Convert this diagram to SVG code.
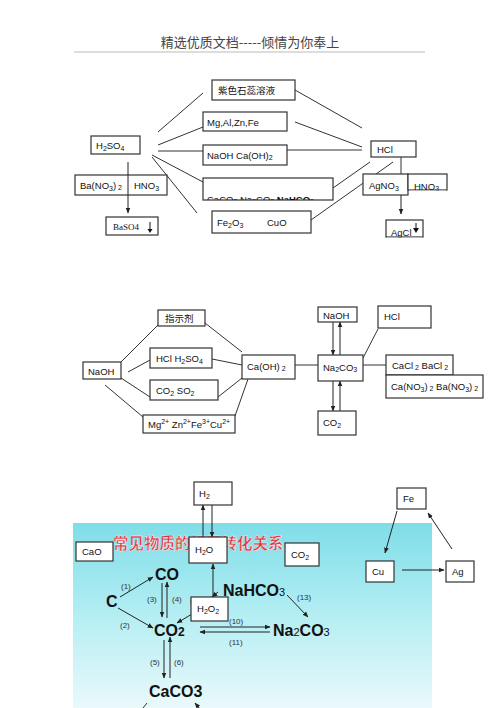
<svg xmlns="http://www.w3.org/2000/svg" width="500" height="708" viewBox="0 0 500 708">
<style>
.b{fill:#fff;stroke:#333;stroke-width:1.2}
.t{font-family:"Liberation Sans","Noto Sans CJK JP",sans-serif;font-size:9.5px;fill:#111}
.s{font-size:7px}
.l{stroke:#333;stroke-width:1;fill:none}
.a{stroke:#222;stroke-width:1;fill:none;marker-end:url(#ah)}
.big{font-family:"Liberation Sans",sans-serif;font-size:16px;font-weight:bold;fill:#111}
.n{font-family:"Liberation Sans",sans-serif;font-size:8px;fill:#333}
</style>
<defs>
<marker id="ah" viewBox="0 0 10 10" refX="9" refY="5" markerWidth="6" markerHeight="6" orient="auto" markerUnits="userSpaceOnUse"><path d="M0,1 L10,5 L0,9 z" fill="#222"/></marker>
<linearGradient id="sky" x1="0" y1="0" x2="0" y2="1"><stop offset="0" stop-color="#7fdde8"/><stop offset="0.5" stop-color="#b4eef3"/><stop offset="1" stop-color="#eaf9fb"/></linearGradient>
<clipPath id="cc"><rect x="203" y="178" width="130" height="22"/></clipPath>
<clipPath id="tc"><rect x="73" y="520" width="116" height="40"/><rect x="227" y="520" width="100" height="40"/><rect x="189" y="520" width="38" height="17"/></clipPath>
</defs>
<rect width="500" height="708" fill="#fff"/>
<text x="250" y="47" text-anchor="middle" font-family="Noto Sans CJK SC,sans-serif" font-size="13" fill="#444">精选优质文档-----倾情为你奉上</text>
<line x1="74" y1="52" x2="425" y2="52" stroke="#bbb" stroke-width="1.2"/>

<g id="connectors1">
<line class="l" x1="158" y1="132" x2="203" y2="93"/>
<line class="l" x1="158" y1="145" x2="203" y2="127"/>
<line class="l" x1="158" y1="151" x2="203" y2="151"/>
<line class="l" x1="152" y1="155" x2="203" y2="182"/>
<line class="l" x1="152" y1="157" x2="197" y2="213"/>
<line class="l" x1="295" y1="90" x2="362" y2="128"/>
<line class="l" x1="295" y1="122" x2="362" y2="147"/>
<line class="l" x1="287" y1="150" x2="362" y2="150"/>
<line class="l" x1="333" y1="188" x2="370" y2="162"/>
<line class="l" x1="311" y1="220" x2="393" y2="162"/>
<line class="l" x1="401" y1="157" x2="401" y2="174"/>
</g>

<g id="zise"><rect class="b" x="212" y="80" width="83" height="20"/><text class="t" x="218" y="94" font-size="10.5">紫色石蕊溶液</text></g>
<g id="mg"><rect class="b" x="203" y="112" width="84" height="19"/><text class="t" x="207" y="126">Mg,Al,Zn,Fe</text></g>
<g id="naoh1"><rect class="b" x="203" y="145" width="84" height="20"/><text class="t" x="207" y="159">NaOH   Ca(OH)<tspan class="s" dy="1">2</tspan></text></g>
<g id="caco3box"><rect class="b" x="203" y="178" width="130" height="22"/><text class="t" x="207" y="203" clip-path="url(#cc)" font-size="11" font-family="Liberation Serif,serif">CaCO<tspan class="s" dy="1">3</tspan><tspan dy="-1"> Na</tspan><tspan class="s" dy="1">2</tspan><tspan dy="-1">CO</tspan><tspan class="s" dy="1">3</tspan><tspan dy="-1" font-weight="bold"> NaHCO</tspan><tspan class="s" dy="1">3</tspan></text></g>
<g id="fe2o3"><rect class="b" x="212" y="211" width="99" height="22"/><text class="t" x="217" y="226">Fe<tspan class="s" dy="2">2</tspan><tspan dy="-2">O</tspan><tspan class="s" dy="2">3</tspan></text><text class="t" x="267" y="226">CuO</text></g>
<g id="h2so4"><rect class="b" x="91" y="136" width="49" height="18"/><text class="t" x="96" y="149">H<tspan class="s" dy="2">2</tspan><tspan dy="-2">SO</tspan><tspan class="s" dy="2">4</tspan></text></g>
<g id="bano3"><rect class="b" x="75" y="175" width="92" height="20"/><text class="t" x="80" y="189">Ba(NO<tspan class="s" dy="2">3</tspan><tspan dy="-2">)</tspan><tspan class="s" dy="1"> 2</tspan></text><text class="t" x="134" y="189">HNO<tspan class="s" dy="2">3</tspan></text></g>
<g id="baso4"><rect class="b" x="106" y="217" width="52" height="18"/><text x="113" y="230" font-family="Liberation Serif,serif" font-size="9" fill="#111">BaSO4</text><line x1="150" y1="222" x2="150" y2="231" stroke="#111" stroke-width="1"/><path d="M147.5,229 L150,233 L152.5,229z" fill="#111"/></g>
<g id="hcl1"><rect class="b" x="371" y="141" width="45" height="16"/><text class="t" x="377" y="153">HCl</text></g>
<g id="agno3"><rect class="b" x="363" y="174" width="45" height="21"/><text class="t" x="369" y="189">AgNO<tspan class="s" dy="2">3</tspan></text></g>
<g id="hno3"><rect class="b" x="408" y="174" width="39" height="16"/><text class="t" x="414" y="190">HNO<tspan class="s" dy="1">3</tspan></text><rect x="409" y="190.6" width="37" height="4" fill="#fff"/></g>
<g id="agcl"><rect class="b" x="386" y="220" width="37" height="17"/><text class="t" x="391" y="236">AgCl</text><rect x="387" y="237.6" width="35" height="4" fill="#fff"/><path d="M413,228 L419,228 L416,233z" fill="#111"/><line x1="416" y1="223" x2="416" y2="229" stroke="#111"/></g>

<g id="arrows1">
<line class="a" x1="128" y1="162" x2="128" y2="213"/>
<line class="a" x1="401" y1="195" x2="401" y2="214"/>
</g>

<g id="connectors2">
<line class="l" x1="120" y1="363" x2="158" y2="325"/>
<line class="l" x1="128" y1="372" x2="150" y2="360"/>
<line class="l" x1="121" y1="378" x2="150" y2="397"/>
<line class="l" x1="105" y1="385" x2="143" y2="417"/>
<line class="l" x1="205" y1="323" x2="242" y2="352"/>
<line class="l" x1="212" y1="359" x2="242" y2="365"/>
<line class="l" x1="218" y1="397" x2="242" y2="378"/>
<line class="l" x1="235" y1="416" x2="248" y2="379"/>
<line class="l" x1="295" y1="365" x2="318" y2="365"/>
<line class="l" x1="378" y1="329" x2="363" y2="358"/>
<line class="l" x1="363" y1="365" x2="386" y2="365"/>
<line class="a" x1="333" y1="322" x2="333" y2="355"/>
<line class="a" x1="340" y1="355" x2="340" y2="322"/>
<line class="a" x1="333" y1="381" x2="333" y2="411"/>
<line class="a" x1="340" y1="411" x2="340" y2="381"/>
</g>

<g id="zhishiji"><rect class="b" x="158" y="310" width="47" height="16"/><text class="t" x="165" y="322">指示剂</text></g>
<g id="hclh2so4"><rect class="b" x="150" y="348" width="62" height="20"/><text class="t" x="156" y="362">HCl  H<tspan class="s" dy="2">2</tspan><tspan dy="-2">SO</tspan><tspan class="s" dy="2">4</tspan></text></g>
<g id="co2so2"><rect class="b" x="150" y="380" width="68" height="20"/><text class="t" x="156" y="394">CO<tspan class="s" dy="2">2</tspan><tspan dy="-2">  SO</tspan><tspan class="s" dy="2">2</tspan></text></g>
<g id="ions"><rect class="b" x="143" y="415" width="92" height="18"/><text class="t" x="148" y="428">Mg<tspan class="s" dy="-4">2+</tspan><tspan dy="4"> Zn</tspan><tspan class="s" dy="-4">2+</tspan><tspan dy="4">Fe</tspan><tspan class="s" dy="-4">3+</tspan><tspan dy="4">Cu</tspan><tspan class="s" dy="-4">2+</tspan></text></g>
<g id="naoh2"><rect class="b" x="83" y="362" width="38" height="17"/><text class="t" x="88" y="375">NaOH</text></g>
<g id="caoh2"><rect class="b" x="242" y="355" width="53" height="24"/><text class="t" x="247" y="370">Ca(OH)<tspan class="s" dy="1"> 2</tspan></text></g>
<g id="na2co3b"><rect class="b" x="318" y="355" width="45" height="26"/><text class="t" x="323" y="371">Na<tspan class="s" dy="1">2</tspan><tspan dy="-1">CO</tspan><tspan class="s" dy="1">3</tspan></text></g>
<g id="naoh3"><rect class="b" x="318" y="307" width="39" height="15"/><text class="t" x="323" y="319">NaOH</text></g>
<g id="co2b"><rect class="b" x="318" y="411" width="38" height="24"/><text class="t" x="323" y="426">CO<tspan class="s" dy="2">2</tspan></text></g>
<g id="hcl3"><rect class="b" x="378" y="306" width="53" height="22"/><text class="t" x="384" y="320">HCl</text></g>
<g id="cacl2"><rect class="b" x="386" y="355" width="67" height="20"/><text class="t" x="392" y="369">CaCl<tspan class="s" dy="1"> 2</tspan><tspan dy="-1">  BaCl</tspan><tspan class="s" dy="1"> 2</tspan></text></g>
<g id="cano3"><rect class="b" x="386" y="375" width="97" height="23"/><text class="t" x="391" y="390">Ca(NO<tspan class="s" dy="2">3</tspan><tspan dy="-2">)</tspan><tspan class="s" dy="1"> 2</tspan><tspan dy="-1"> Ba(NO</tspan><tspan class="s" dy="2">3</tspan><tspan dy="-2">)</tspan><tspan class="s" dy="1"> 2</tspan></text></g>

<rect x="73" y="523" width="359" height="185" fill="url(#sky)"/>
<text x="113" y="549" clip-path="url(#tc)" font-family="Noto Sans CJK SC,sans-serif" font-size="15.5" font-weight="bold" fill="#e0303a" stroke="#fff" stroke-width="0.4">常见物质的相互转化关系</text>

<g id="connectors3">
<line class="a" x1="203" y1="537" x2="203" y2="505"/>
<line class="a" x1="212" y1="505" x2="212" y2="537"/>
<line class="a" x1="213" y1="597" x2="213" y2="564"/>
<line class="a" x1="218" y1="592" x2="212" y2="597"/>
<line class="a" x1="120" y1="597" x2="153" y2="577"/>
<line class="a" x1="118" y1="608" x2="153" y2="628"/>
<line class="a" x1="162" y1="583" x2="162" y2="617"/>
<line class="a" x1="167" y1="618" x2="167" y2="582"/>
<line class="a" x1="192" y1="614" x2="177" y2="623"/>
<line class="a" x1="200" y1="627" x2="270" y2="627"/>
<line class="a" x1="270" y1="632" x2="200" y2="632"/>
<line class="a" x1="287" y1="595" x2="308" y2="617"/>
<line class="a" x1="164" y1="640" x2="164" y2="678"/>
<line class="a" x1="170" y1="678" x2="170" y2="637"/>
<line class="l" x1="147" y1="703" x2="143" y2="708"/>
<line class="a" x1="200" y1="709" x2="195" y2="703"/>
<line class="a" x1="397" y1="511" x2="385" y2="553"/>
<line class="a" x1="402" y1="570" x2="444" y2="570"/>
<line class="a" x1="452" y1="549" x2="428" y2="513"/>
</g>

<text class="n" x="190" y="603">(7)</text>
<g id="h2"><rect class="b" x="194" y="482" width="38" height="23"/><text class="t" x="199" y="497">H<tspan class="s" dy="2">2</tspan></text></g>
<g id="h2o"><rect class="b" x="189" y="537" width="38" height="26"/><text class="t" x="195" y="553">H<tspan class="s" dy="2">2</tspan><tspan dy="-2">O</tspan></text></g>
<g id="cao"><rect class="b" x="76" y="542" width="37" height="19"/><text class="t" x="82" y="555">CaO</text></g>
<g id="co2c"><rect class="b" x="285" y="543" width="34" height="23"/><text class="t" x="291" y="558">CO<tspan class="s" dy="2">2</tspan></text></g>
<g id="h2o2"><rect class="b" x="191" y="597" width="37" height="24"/><text class="t" x="197" y="612">H<tspan class="s" dy="2">2</tspan><tspan dy="-2">O</tspan><tspan class="s" dy="2">2</tspan></text></g>
<g id="fe"><rect class="b" x="397" y="488" width="29" height="21"/><text class="t" x="403" y="502">Fe</text></g>
<g id="cu"><rect class="b" x="366" y="561" width="28" height="21"/><text class="t" x="372" y="575">Cu</text></g>
<g id="ag"><rect class="b" x="446" y="561" width="28" height="21"/><text class="t" x="452" y="575">Ag</text></g>

<g id="CO"><text class="big" x="155" y="580">CO</text></g>
<g id="C"><text class="big" x="106" y="607" font-size="18">C</text></g>
<g id="CO2"><text class="big" x="154" y="636">CO<tspan font-size="12">2</tspan></text></g>
<g id="NaHCO3"><text class="big" x="223" y="596">NaHCO<tspan font-size="11" font-weight="normal">3</tspan></text></g>
<g id="Na2CO3"><text class="big" x="273" y="636">Na<tspan font-size="11" font-weight="normal">2</tspan>CO<tspan font-size="11" font-weight="normal">3</tspan></text></g>
<g id="CaCO3"><text class="big" x="149" y="697">CaCO3</text></g>

<text class="n" x="121" y="589">(1)</text>
<text class="n" x="120" y="628">(2)</text>
<text class="n" x="147" y="602">(3)</text>
<text class="n" x="172" y="602">(4)</text>
<text class="n" x="150" y="665">(5)</text>
<text class="n" x="174" y="665">(6)</text>
<text class="n" x="229" y="624">(10)</text>
<text class="n" x="229" y="645">(11)</text>
<text class="n" x="297" y="600">(13)</text>
</svg>
